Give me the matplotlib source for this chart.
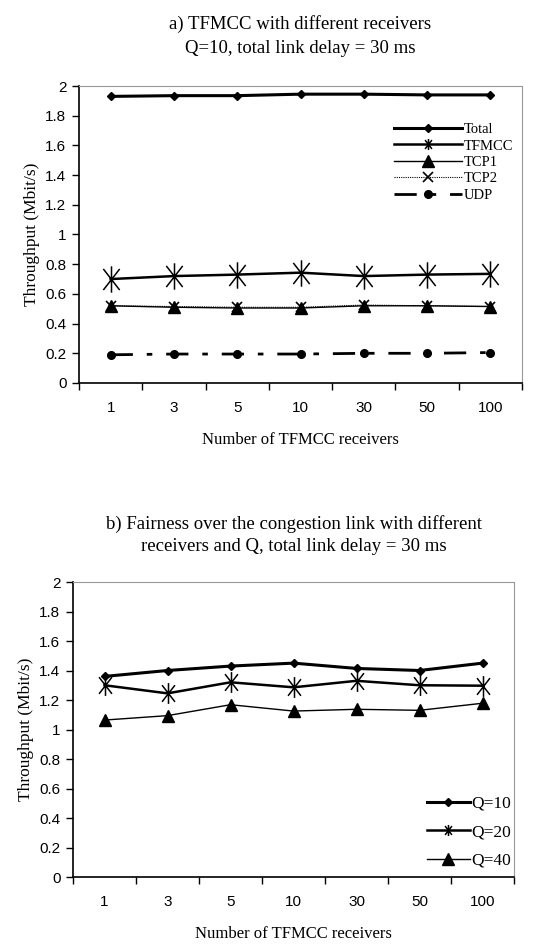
import matplotlib
matplotlib.use("Agg")
import matplotlib.pyplot as plt
from matplotlib.path import Path
import numpy as np

receivers = ["1", "3", "5", "10", "30", "50", "100"]

# Panel a
total = [1.93, 1.935, 1.935, 1.945, 1.945, 1.94, 1.94]
tfmcc = [0.70, 0.72, 0.73, 0.743, 0.72, 0.73, 0.735]
tcp1 = [0.52, 0.51, 0.505, 0.505, 0.52, 0.52, 0.515]
tcp2 = [0.52, 0.515, 0.51, 0.51, 0.525, 0.52, 0.515]
udp = [0.19, 0.195, 0.195, 0.195, 0.20, 0.20, 0.205]

# Panel b
q10 = [1.36, 1.40, 1.43, 1.45, 1.414, 1.40, 1.45]
q20 = [1.30, 1.245, 1.32, 1.286, 1.33, 1.30, 1.297]
q40 = [1.064, 1.094, 1.168, 1.125, 1.137, 1.13, 1.178]

serif = "Liberation Serif"
sans = "Liberation Sans"

fig = plt.figure(figsize=(5.42, 9.47), dpi=100)
W, H = 542, 947

# tall asterisk marker: vertical bar plus an X
star = Path([(0, -1), (0, 1), (-0.62, -0.8), (0.62, 0.8), (-0.62, 0.8), (0.62, -0.8)],
            [Path.MOVETO, Path.LINETO, Path.MOVETO, Path.LINETO, Path.MOVETO, Path.LINETO])


def style_axes(ax):
    ax.set_ylim(0, 2)
    ax.set_xlim(0, 7)
    ax.set_yticks(np.arange(0, 2.01, 0.2))
    ax.set_yticklabels(["0", "0.2", "0.4", "0.6", "0.8", "1", "1.2", "1.4", "1.6", "1.8", "2"],
                       fontfamily=sans, fontsize=11)
    ax.set_xticks(np.arange(0, 8))
    ax.set_xticklabels([])
    ax.set_xticks(np.arange(7) + 0.5, minor=True)
    ax.set_xticklabels(receivers, minor=True, fontfamily=sans, fontsize=11)
    ax.tick_params(axis="x", which="major", direction="out", length=5, width=1)
    ax.tick_params(axis="x", which="minor", length=0, pad=13)
    ax.tick_params(axis="y", direction="out", length=5, width=1, pad=4)
    for s in ("top", "right"):
        ax.spines[s].set_linestyle((0, (1, 1)))
        ax.spines[s].set_color("#999999")
    ax.spines["left"].set_linewidth(1.2)
    ax.spines["bottom"].set_linewidth(1.2)
    ax.set_ylabel("Throughput (Mbit/s)", fontfamily=serif, fontsize=12.5, labelpad=4)
    ax.set_xlabel("Number of TFMCC receivers", fontfamily=serif, fontsize=12, labelpad=12)


x = np.arange(7) + 0.5

# Panel a
ax1 = fig.add_axes([79 / W, 1 - 383 / H, 443 / W, 297 / H])
style_axes(ax1)
ax1.plot(x, total, color="black", lw=2.2, marker="D", ms=4.5, label="Total")
ax1.plot(x, tfmcc, color="black", lw=1.8, marker=star, ms=19, mew=1.1, label="TFMCC")
ax1.plot(x, tcp1, color="black", lw=1.0, marker="^", ms=9, label="TCP1")
ax1.plot(x, tcp2, color="black", lw=0.8, ls=(0, (1, 1)), marker="x", ms=7, mew=1.2, label="TCP2")
ax1.plot(x, udp, color="black", lw=2.0, dashes=(8, 5, 2, 5), marker="o", ms=5.5, label="UDP")
leg1 = ax1.legend(loc="upper right", bbox_to_anchor=(1.0, 0.905), frameon=False,
                  prop={"family": serif, "size": 10.5}, handlelength=4.6,
                  handletextpad=0.15, labelspacing=0.22, borderaxespad=0.2)
for line in leg1.get_lines():
    line.set_markersize(min(line.get_markersize(), 8))
ax1.set_title("a) TFMCC with different receivers\nQ=10, total link delay = 30 ms",
              fontfamily=serif, fontsize=13.5, pad=24, linespacing=1.5)

# Panel b
ax2 = fig.add_axes([73 / W, 1 - 877 / H, 441 / W, 295 / H])
style_axes(ax2)
ax2.plot(x, q10, color="black", lw=2.2, marker="D", ms=4.5, label="Q=10")
ax2.plot(x, q20, color="black", lw=1.8, marker=star, ms=15, mew=1.1, label="Q=20")
ax2.plot(x, q40, color="black", lw=1.0, marker="^", ms=9, label="Q=40")
leg2 = ax2.legend(loc="lower right", bbox_to_anchor=(1.01, 0.005), frameon=False,
                  prop={"family": serif, "size": 12.5}, handlelength=2.5,
                  handletextpad=0.1, labelspacing=0.7, borderaxespad=0.0)
for line in leg2.get_lines():
    line.set_markersize(min(line.get_markersize(), 8))
ax2.set_title("b) Fairness over the congestion link with different\nreceivers and Q, total link delay = 30 ms",
              fontfamily=serif, fontsize=13.5, pad=22, linespacing=1.45)

fig.savefig("out.png", dpi=100)
